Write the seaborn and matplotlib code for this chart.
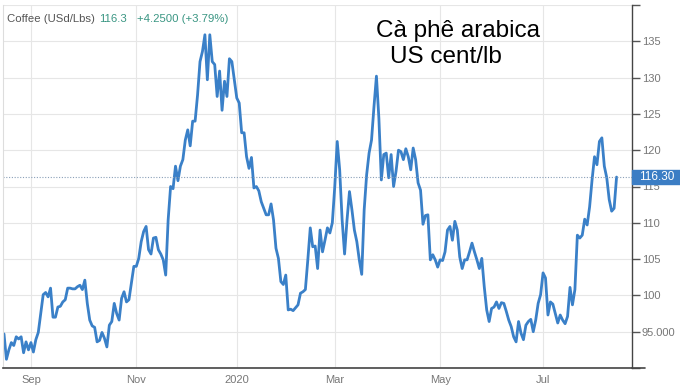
import numpy as np
import pandas as pd
import seaborn as sns
import matplotlib.pyplot as plt
import matplotlib.transforms as mtransforms
from matplotlib.patches import Rectangle
from matplotlib.lines import Line2D

# daily closes, one per trading day from 2019-08-16
start_date = "2019-08-16"
holidays = ["2019-09-02", "2019-11-28", "2019-12-25", "2020-01-01", "2020-01-20",
            "2020-02-17", "2020-04-10", "2020-05-25", "2020-07-03"]

price = [
    94.7, 91.2, 92.5, 93.5, 93.1, 94.3, 94.0, 94.3, 92.1, 93.6,
    92.5, 93.5, 92.2, 93.9, 94.9, 97.5, 100.1, 100.4, 99.8, 101.0,
    97.0, 97.0, 98.4, 98.5, 99.1, 99.4, 101.0, 101.0, 100.9, 100.9,
    101.2, 101.4, 100.8, 102.1, 98.9, 96.6, 95.8, 95.6, 93.6, 93.8,
    94.9, 94.1, 92.9,
    95.9, 96.4, 98.9, 97.5, 96.6, 99.6, 100.5, 99.1, 99.4, 101.7,
    104.0, 104.0, 105.1, 107.4, 108.8, 109.5, 106.3, 105.7, 107.9, 108.0,
    106.3, 105.7, 104.9, 102.8, 110.4, 115.0, 114.7, 117.8, 115.8, 117.8,
    118.7, 121.4, 122.8, 120.6, 124.0, 124.0, 127.6, 132.2, 133.6, 135.9,
    129.7, 135.9,
    132.2, 131.8, 127.4, 130.9, 125.5, 129.5, 127.4, 132.6, 132.2, 129.7,
    127.2, 126.5, 122.4, 122.4, 119.1, 117.5, 119.0, 114.8, 115.0, 114.4,
    112.9, 112.0, 111.1, 111.1, 112.6, 110.4, 106.5, 105.1, 101.9, 101.5,
    102.8, 98.0, 98.1, 97.9, 98.3, 98.7, 100.3, 100.5, 100.8, 104.9,
    109.3, 106.7, 106.8, 103.7, 109.0, 106.0, 107.6, 109.3, 108.6, 110.0,
    115.0, 121.2, 117.3, 110.4, 105.7, 110.4, 114.3, 111.8, 109.0, 107.4,
    104.9, 102.9, 111.8, 116.6, 119.6, 121.4, 126.0, 130.2, 124.4, 115.9,
    119.4, 119.6, 116.2, 119.4, 115.0, 117.1, 120.0, 119.8, 118.7, 120.2,
    119.1, 117.3, 120.3, 118.7, 115.5,
    114.5, 109.8, 111.0, 111.1, 104.9, 105.6, 104.9, 103.9, 104.9, 104.8,
    106.0, 109.0, 109.5, 107.6, 110.2, 109.0, 105.3, 103.7, 104.9, 104.9,
    106.0, 107.2, 106.0, 104.9, 103.7, 105.1, 101.2, 98.0, 96.4, 98.2,
    98.4, 99.1, 98.2, 99.0, 98.9, 97.8, 96.6, 95.7, 94.3, 93.6,
    96.4, 94.8, 93.9,
    95.9, 96.4, 96.7, 95.0, 96.6, 98.9, 100.1, 103.1, 102.4, 97.3,
    99.1, 98.8, 97.5, 96.2, 97.3, 96.6, 96.1, 97.1, 101.1, 98.7,
    100.8, 108.3, 107.9, 108.3, 110.5, 109.7, 112.2, 115.9, 119.1, 118.0,
    121.2, 121.7, 117.8, 116.2, 113.2, 111.6, 112.0, 116.3,
]

tick_dates = ["2019-09-01", "2019-11-01", "2020-01-01", "2020-03-01", "2020-05-01", "2020-07-01"]
tick_labels = ["Sep", "Nov", "2020", "Mar", "May", "Jul"]
y_ticks = [95, 100, 105, 110, 115, 120, 125, 130, 135]
y_labels = ["95.000", "100", "105", "110", "115", "120", "125", "130", "135"]
last_price = 116.3
last_label = "116.30"

sns.set_theme(style="whitegrid")
plt.rcParams["font.family"] = ["Liberation Sans", "DejaVu Sans"]

dates = pd.bdate_range(start_date, periods=len(price), freq="C", holidays=holidays)
df = pd.DataFrame({"date": dates, "price": price})
df["day"] = np.arange(len(df))

W, H = 680, 386
fig = plt.figure(figsize=(W / 100, H / 100), dpi=100)
ax = fig.add_axes([3 / W, 18 / H, 629 / W, 363 / H])

sns.lineplot(data=df, x="day", y="price", ax=ax, color="#3a80c8", linewidth=2.0)

ax.set_xlim(-0.4, 256.3)
ax.set_ylim(90, 140)
ax.set_xlabel("")
ax.set_ylabel("")

tick_pos = [int(np.searchsorted(dates, pd.Timestamp(d))) for d in tick_dates]
ax.set_xticks(tick_pos)
ax.set_xticklabels(tick_labels)
ax.yaxis.tick_right()
ax.set_yticks([90] + y_ticks + [140])
ax.set_yticklabels([""] + y_labels + [""])
ax.tick_params(axis="y", right=True, length=6, width=1, color="#555555",
               labelsize=8, labelcolor="#777777", pad=1)
ax.tick_params(axis="x", length=0, labelsize=8, labelcolor="#777777", pad=5)
ax.grid(True, color="#e6e6e6", linewidth=0.8)

for side in ["top"]:
    ax.spines[side].set_visible(False)
ax.spines["left"].set_color("#dddddd")
ax.spines["left"].set_linewidth(0.8)
ax.spines["right"].set_color("#444444")
ax.spines["right"].set_linewidth(1.0)
ax.spines["bottom"].set_color("#444444")
ax.spines["bottom"].set_linewidth(1.2)
fig.add_artist(Line2D([632 / W, 645 / W], [18 / H, 18 / H], color="#444444", lw=1.2))

# last price marker
ax.axhline(last_price, color="#8aa0b8", lw=0.8, ls=(0, (1, 1.5)))
trans = mtransforms.blended_transform_factory(ax.transAxes, ax.transData)
ax.add_patch(Rectangle((1.0, last_price - 0.95), 48 / 629, 1.9, transform=trans,
                       color="#3b7dc4", clip_on=False, zorder=5))
ax.text(1.0 + 25 / 629, last_price, last_label, transform=trans, ha="center", va="center",
        color="white", fontsize=8.5, zorder=6)

# header
fig.text(7 / W, 1 - 19 / H, "Coffee (USd/Lbs)", fontsize=8.2, color="#555555", va="center")
fig.text(99 / W, 1 - 19 / H, "116.3", fontsize=8.2, color="#3a9683", va="center")
fig.text(137 / W, 1 - 19 / H, "+4.2500 (+3.79%)", fontsize=8.2, color="#3a9683", va="center")

# title
fig.text(376 / W, 1 - 31 / H, "Cà phê arabica", fontsize=17.5, color="black", va="center")
fig.text(390 / W, 1 - 57 / H, "US cent/lb", fontsize=17.5, color="black", va="center")

fig.savefig("out.png", dpi=100)
